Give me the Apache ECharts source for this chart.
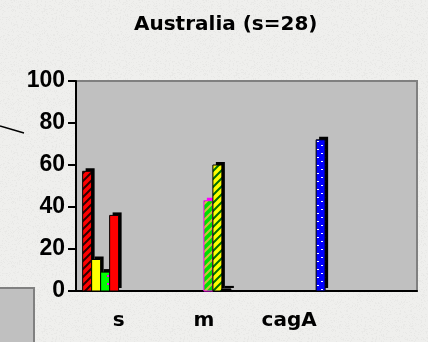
<!DOCTYPE html>
<html>
<head>
<meta charset="utf-8">
<script src="https://cdn.jsdelivr.net/npm/echarts@6/dist/echarts.min.js"></script>
<style>
  html, body { margin: 0; padding: 0; background: #eeeeec; }
  #chart { width: 428px; height: 342px; }
</style>
</head>
<body>
<div id="chart"></div>
<script>
// categories and values (percent), null = no bar
var categories = ['s', 'm', 'cagA', ''];
var s0Values = [57, null, null, null];
var s1Values = [15, null, null, null];
var s2Values = [9, null, null, null];
var s3Values = [36, null, null, null];
var s4Values = [null, 43, null, null];
var s5Values = [null, 60, null, null];
var s6Values = [null, 1, null, null];
var s7Values = [null, null, 72, null];
var yMin = 0, yMax = 100, yStep = 20;

var allSeries = [s0Values, s1Values, s2Values, s3Values, s4Values, s5Values, s6Values, s7Values];
var BAR_W = 9, DEPTH = 3;

function pattern(bg, fg, kind) {
    var c = document.createElement('canvas');
    c.width = 8; c.height = 8;
    var ctx = c.getContext('2d');
    ctx.fillStyle = bg;
    ctx.fillRect(0, 0, 8, 8);
    ctx.strokeStyle = fg;
    ctx.fillStyle = fg;
    if (kind === 'diag') {
        ctx.lineWidth = 2;
        ctx.beginPath();
        ctx.moveTo(-2, 10); ctx.lineTo(10, -2);
        ctx.moveTo(-2, 2); ctx.lineTo(2, -2);
        ctx.moveTo(6, 10); ctx.lineTo(10, 6);
        ctx.stroke();
    } else if (kind === 'dots') {
        ctx.fillRect(1, 1, 2, 1);
        ctx.fillRect(5, 5, 2, 1);
    } else if (kind === 'spot') {
        ctx.fillRect(3, 3, 2, 2);
    }
    return { image: c, repeat: 'repeat' };
}

// speckled paper texture behind the chart (pure decoration)
function paper() {
    var c = document.createElement('canvas');
    c.width = 64; c.height = 64;
    var ctx = c.getContext('2d');
    ctx.fillStyle = '#efefed';
    ctx.fillRect(0, 0, 64, 64);
    for (var y = 0; y < 64; y++) {
        for (var x = 0; x < 64; x++) {
            var h = Math.sin(x * 12.9898 + y * 78.233) * 43758.5453;
            h = h - Math.floor(h);
            if (h > 0.8) {
                var g = 215 + Math.round(h * 20);
                ctx.fillStyle = 'rgb(' + g + ',' + g + ',' + (g - 2) + ')';
                ctx.fillRect(x, y, 1, 1);
            }
        }
    }
    return { image: c, repeat: 'repeat' };
}

var fills = [
    pattern('#ff0000', '#300000', 'diag'),
    '#ffff00',
    pattern('#00ff00', '#ff00ff', 'spot'),
    '#ff0000',
    pattern('#00e000', '#d0c040', 'diag'),
    pattern('#ffff00', '#007000', 'diag'),
    '#000000',
    pattern('#0000ff', '#ffffff', 'dots')
];
var edges = ['#000', '#000', '#000', '#000', '#ff00ff', '#000', '#000', '#000'];

function barSeries(idx) {
    var data = [];
    allSeries[idx].forEach(function (v, k) {
        if (v !== null) data.push([k, v]);
    });
    return {
        type: 'custom',
        name: 's' + idx,
        data: data,
        encode: { x: 0, y: 1 },
        renderItem: function (params, api) {
            var base = api.coord([api.value(0), 0]);
            var top = api.coord([api.value(0), api.value(1)]);
            var n = allSeries.length;
            var x = base[0] - n * BAR_W / 2 + idx * BAR_W;
            var h = base[1] - top[1];
            return {
                type: 'group',
                children: [
                    { type: 'rect', shape: { x: x + DEPTH, y: top[1] - DEPTH, width: BAR_W, height: h },
                      style: { fill: edges[idx] } },
                    { type: 'rect', shape: { x: x, y: top[1], width: BAR_W, height: h },
                      style: { fill: fills[idx], stroke: edges[idx], lineWidth: 1 } }
                ]
            };
        }
    };
}

var chart = echarts.init(document.getElementById('chart'));

var option = {
    backgroundColor: paper(),
    animation: false,
    title: {
        text: 'Australia (s=28)',
        left: 129,
        top: 10,
        textStyle: { fontFamily: 'DejaVu Sans', fontWeight: 'bold', fontSize: 20, color: '#000' }
    },
    grid: {
        left: 76, right: 11, top: 81, bottom: 51,
        show: true,
        backgroundColor: '#c0c0c0',
        borderColor: '#808080',
        borderWidth: 2
    },
    xAxis: {
        type: 'category',
        data: categories,
        axisLine: { lineStyle: { color: '#000', width: 2 } },
        axisTick: { length: 6, lineStyle: { color: '#000', width: 2 } },
        axisLabel: { margin: 20, color: '#000', fontFamily: 'DejaVu Sans', fontWeight: 'bold', fontSize: 20 }
    },
    yAxis: {
        type: 'value',
        min: yMin, max: yMax, interval: yStep,
        axisLine: { show: true, lineStyle: { color: '#000', width: 2 } },
        axisTick: { show: true, length: 8, lineStyle: { color: '#000', width: 2 } },
        splitLine: { show: false },
        axisLabel: { margin: 11, color: '#000', fontFamily: 'Liberation Sans', fontWeight: 'bold', fontSize: 23 }
    },
    graphic: [
        { type: 'line', shape: { x1: 0, y1: 126, x2: 24, y2: 133 }, style: { stroke: '#000', lineWidth: 1.5 } },
        { type: 'rect', shape: { x: -2, y: 288, width: 36, height: 60 }, style: { fill: '#c0c0c0', stroke: '#808080', lineWidth: 2 } }
    ],
    series: allSeries.map(function (_, i) { return barSeries(i); })
};

chart.setOption(option);
</script>
</body>
</html>
